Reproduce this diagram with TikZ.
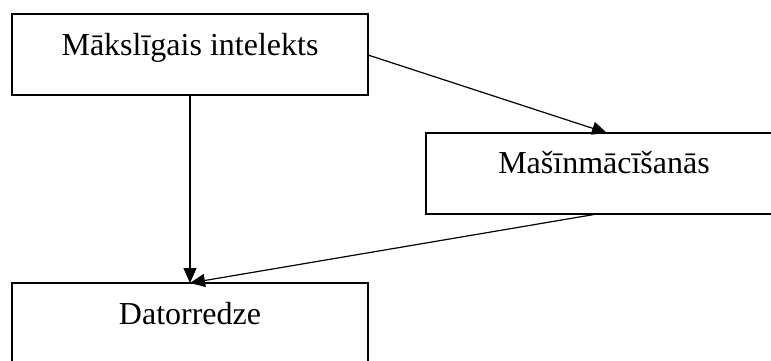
\documentclass[tikz,border=0pt]{standalone}
\usepackage{fontspec}
\setmainfont{Liberation Serif}
\usetikzlibrary{arrows.meta}
\begin{document}
\begin{tikzpicture}[x=1pt,y=1pt,
  box/.style={draw, line width=2.5pt, minimum width=356pt, minimum height=81pt, inner sep=0pt, outer sep=0pt},
  lbl/.style={font=\fontsize{32}{38}\selectfont, inner sep=0pt, anchor=base},
  edge/.style={line width=1.2pt, -{Triangle[length=15pt,width=13pt]}}]
\useasboundingbox (0,0) rectangle (771,360);
\node[box] (b1) at (190,305.5) {};
\node[box] (b2) at (604,186.5) {};
\node[box] (b3) at (190,36.5) {};
\node[lbl] (t1) at ([yshift=-41pt]b1.north) {Mākslīgais intelekts};
\node[lbl] (t2) at ([yshift=-40pt]b2.north) {Mašīnmācīšanās};
\node[lbl] (t3) at ([yshift=-41pt]b3.north) {Datorredze};
\draw[edge] ([yshift=-0.5pt]b1.east) -- ([xshift=3pt]b2.north);
\draw[edge] (b1.south) -- (b3.north);
\draw[edge] ([xshift=-7pt]b2.south) -- (b3.north);
\end{tikzpicture}
\end{document}
